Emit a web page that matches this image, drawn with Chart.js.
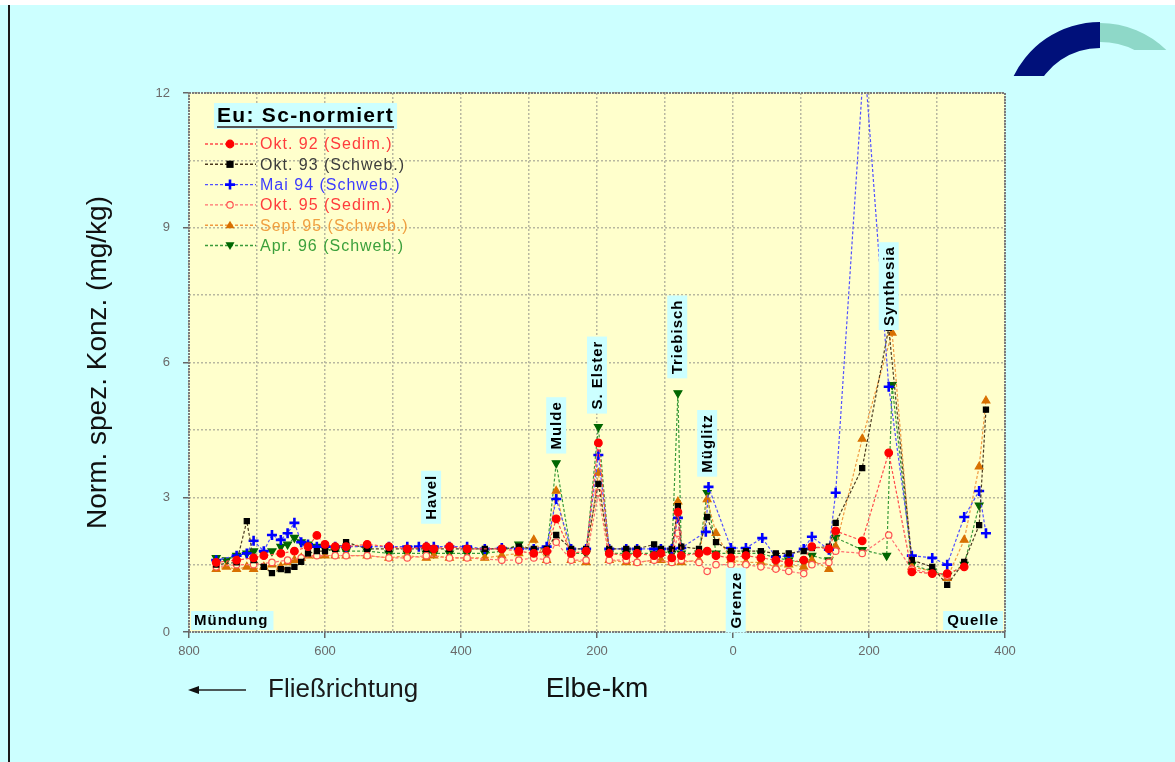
<!DOCTYPE html>
<html lang="de">
<head>
  <meta charset="UTF-8">
  <title>Eu: Sc-normiert – Elbe-Längsprofil</title>
  <script src="https://cdn.jsdelivr.net/npm/chart.js@4.4.0/dist/chart.umd.min.js"></script>
  <style>
    html,
    body {
      margin: 0;
      padding: 0;
      background: #ccffff;
      overflow: hidden;
    }

    #wrap {
      position: relative;
      width: 1175px;
      height: 762px;
    }
  </style>
</head>

<body>
  <div id="wrap"><canvas id="profil" width="1175" height="762"></canvas></div>

  <script>
    // Elbe-km: links deutsche Zählung (negativ), rechts tschechische Zählung
    const okt92Km = [-760, -730, -705, -690, -665, -645, -625, -612, -600, -585, -569, -538, -506, -479, -451, -440, -417, -391, -340, -315, -293, -274, -260, -238, -216, -198, -182, -157, -141, -116, -106, -90, -81, -76, -50, -38, -25, -3, 19, 41, 63, 82, 104, 116, 141, 151, 190, 229, 263, 293, 315, 340];
    const okt92Val = [1.55, 1.6, 1.65, 1.7, 1.75, 1.8, 1.9, 2.15, 1.95, 1.9, 1.9, 1.95, 1.9, 1.85, 1.9, 1.85, 1.9, 1.85, 1.85, 1.8, 1.75, 1.8, 2.52, 1.75, 1.8, 4.21, 1.75, 1.7, 1.75, 1.7, 1.75, 1.65, 2.67, 1.7, 1.75, 1.8, 1.7, 1.65, 1.7, 1.65, 1.6, 1.55, 1.6, 1.9, 1.85, 2.25, 2.03, 3.99, 1.34, 1.3, 1.3, 1.45];

    const okt93Km = [-760, -730, -715, -705, -690, -678, -665, -655, -645, -635, -625, -612, -600, -585, -569, -538, -506, -479, -451, -440, -417, -391, -365, -340, -315, -293, -274, -260, -238, -216, -198, -182, -157, -141, -116, -106, -90, -81, -76, -50, -38, -25, -3, 19, 41, 63, 82, 104, 116, 141, 151, 190, 229, 263, 293, 315, 340, 362, 372];
    const okt93Val = [1.5, 1.55, 2.47, 1.6, 1.45, 1.31, 1.4, 1.38, 1.45, 1.56, 1.75, 1.8, 1.8, 1.85, 2.0, 1.85, 1.85, 1.85, 1.85, 1.85, 1.85, 1.85, 1.85, 1.85, 1.9, 1.85, 1.85, 2.16, 1.85, 1.85, 3.3, 1.85, 1.85, 1.85, 1.95, 1.85, 1.85, 2.8, 1.9, 1.85, 2.56, 2.0, 1.8, 1.8, 1.8, 1.75, 1.75, 1.8, 1.87, 1.9, 2.43, 3.65, 6.77, 1.6, 1.45, 1.05, 1.56, 2.38, 4.95];

    const mai94Km = [-760, -730, -715, -705, -690, -678, -665, -655, -645, -635, -625, -612, -600, -585, -569, -538, -506, -479, -462, -451, -440, -417, -391, -365, -340, -315, -293, -274, -260, -238, -216, -198, -182, -157, -141, -116, -106, -90, -81, -76, -40, -36, -3, 19, 43, 63, 82, 104, 116, 141, 151, 193, 229, 263, 293, 315, 340, 362, 372];
    const mai94Val = [1.6, 1.7, 1.75, 2.03, 1.8, 2.16, 2.05, 2.2, 2.43, 2.0, 1.95, 1.9, 1.9, 1.9, 1.9, 1.9, 1.9, 1.9, 1.9, 1.9, 1.9, 1.9, 1.9, 1.85, 1.87, 1.85, 1.85, 1.9, 2.96, 1.85, 1.85, 3.94, 1.85, 1.85, 1.85, 1.85, 1.85, 1.85, 2.54, 1.87, 2.23, 3.23, 1.87, 1.87, 2.09, 1.67, 1.7, 1.85, 2.12, 1.83, 3.1, 12.8, 5.46, 1.7, 1.65, 1.5, 2.56, 3.14, 2.2];

    const okt95Km = [-760, -730, -705, -678, -655, -635, -612, -585, -569, -538, -506, -479, -451, -417, -391, -340, -315, -293, -274, -260, -238, -216, -198, -182, -157, -141, -116, -90, -81, -76, -50, -38, -25, -3, 19, 41, 63, 82, 104, 116, 141, 151, 190, 229, 263, 293, 315];
    const okt95Val = [1.45, 1.5, 1.5, 1.55, 1.6, 1.65, 1.7, 1.7, 1.7, 1.7, 1.65, 1.65, 1.7, 1.65, 1.65, 1.6, 1.6, 1.65, 1.6, 2.0, 1.6, 1.6, 3.1, 1.6, 1.6, 1.55, 1.6, 1.55, 2.2, 1.6, 1.55, 1.35, 1.5, 1.5, 1.5, 1.45, 1.4, 1.35, 1.3, 1.5, 1.55, 1.8, 1.75, 2.16, 1.4, 1.3, 1.25];

    const sep95Km = [-760, -745, -730, -715, -705, -690, -678, -665, -655, -645, -635, -625, -612, -600, -585, -569, -538, -506, -479, -451, -440, -417, -391, -365, -340, -315, -293, -274, -260, -238, -216, -198, -182, -157, -141, -116, -106, -90, -81, -76, -50, -38, -25, -3, 19, 41, 63, 82, 104, 116, 141, 151, 190, 234, 263, 293, 315, 340, 362, 372];
    const sep95Val = [1.4, 1.45, 1.4, 1.45, 1.4, 1.45, 1.5, 1.45, 1.55, 1.6, 1.65, 1.7, 1.7, 1.7, 1.7, 1.7, 1.7, 1.65, 1.7, 1.65, 1.7, 1.65, 1.65, 1.65, 1.7, 1.75, 2.05, 1.6, 3.14, 1.6, 1.55, 3.54, 1.6, 1.55, 1.55, 1.6, 1.6, 1.55, 2.9, 1.55, 1.6, 2.95, 2.2, 1.6, 1.55, 1.55, 1.45, 1.5, 1.45, 1.6, 1.4, 1.9, 4.3, 6.66, 1.45, 1.35, 1.2, 2.05, 3.68, 5.15];

    const apr96Km = [-760, -745, -730, -715, -705, -690, -678, -665, -655, -645, -635, -625, -612, -600, -585, -569, -538, -506, -479, -451, -440, -417, -391, -365, -340, -315, -293, -274, -260, -238, -216, -198, -182, -157, -141, -116, -106, -90, -81, -76, -50, -38, -25, -3, 19, 41, 63, 82, 104, 116, 141, 151, 190, 226, 234, 263, 293, 315, 340, 362];
    const apr96Val = [1.65, 1.6, 1.7, 1.75, 1.8, 1.75, 1.8, 1.9, 1.95, 2.1, 2.0, 1.95, 1.9, 1.85, 1.8, 1.8, 1.8, 1.75, 1.75, 1.75, 1.75, 1.75, 1.75, 1.75, 1.8, 1.95, 1.8, 1.75, 3.76, 1.75, 1.75, 4.57, 1.75, 1.75, 1.75, 1.75, 1.8, 1.75, 5.32, 1.75, 1.75, 3.1, 1.75, 1.75, 1.75, 1.75, 1.65, 1.6, 1.55, 1.7, 1.6, 2.1, 1.83, 1.7, 5.5, 1.5, 1.35, 1.25, 1.5, 2.82];

    // Beschriftung der Zuflüsse / Orte (km, Mitte der Beschriftung in mg/kg)
    const placeNames = ['Havel', 'Mulde', 'S. Elster', 'Triebisch', 'Müglitz', 'Grenze', 'Synthesia'];
    const placeKm = [-444, -260, -200, -82, -38, 4, 229];
    const placeY = [3.0, 4.6, 5.72, 6.57, 4.2, 0.71, 7.7];

    const seriesNames = ['Okt. 92 (Sedim.)', 'Okt. 93 (Schweb.)', 'Mai 94 (Schweb.)', 'Okt. 95 (Sedim.)', 'Sept 95 (Schweb.)', 'Apr. 96 (Schweb.)'];

    const FONT = 'Liberation Sans, Arial, Helvetica, sans-serif';
    Chart.defaults.font.family = FONT;

    function pts(km, val) {
      return km.map((k, i) => ({ x: k, y: val[i] }));
    }

    const styles = [
      { line: '#ff4a4a', fill: '#ff0000', stroke: '#ff0000', point: 'circle', r: 3.8, text: '#ff3c3c' },
      { line: '#4a3a20', fill: '#000000', stroke: '#000000', point: 'rect', r: 3.6, text: '#3c3c3c' },
      { line: '#5050ff', fill: '#0000ff', stroke: '#0000ff', point: 'cross', r: 5, text: '#3c3cff' },
      { line: '#ff7070', fill: '#ffffcc', stroke: '#ff5050', point: 'circle', r: 3.2, text: '#ff3c3c' },
      { line: '#f09a40', fill: '#d87000', stroke: '#d87000', point: 'triangle', r: 4.5, text: '#f0a040' },
      { line: '#3a9a3a', fill: '#006600', stroke: '#006600', point: 'triangle', r: 4.5, rot: 180, text: '#3ca03c' }
    ];

    const allData = [
      pts(okt92Km, okt92Val),
      pts(okt93Km, okt93Val),
      pts(mai94Km, mai94Val),
      pts(okt95Km, okt95Val),
      pts(sep95Km, sep95Val),
      pts(apr96Km, apr96Val)
    ];

    const datasets = allData.map((d, i) => {
      const s = styles[i];
      return {
        label: seriesNames[i],
        data: d,
        borderColor: s.line,
        borderWidth: 1.2,
        borderDash: [3, 2],
        pointStyle: s.point,
        pointRotation: s.rot || 0,
        pointRadius: s.r,
        pointBackgroundColor: s.fill,
        pointBorderColor: s.stroke,
        pointBorderWidth: s.point === 'cross' ? 2.6 : 1.2,
        tension: 0
      };
    });

    function drawMarker(ctx, s, x, y) {
      const r = s.r;
      ctx.save();
      ctx.fillStyle = s.fill;
      ctx.strokeStyle = s.stroke;
      ctx.lineWidth = s.point === 'cross' ? 2.6 : 1.2;
      ctx.setLineDash([]);
      ctx.beginPath();
      if (s.point === 'circle') {
        ctx.arc(x, y, r, 0, Math.PI * 2);
        ctx.fill();
        ctx.stroke();
      } else if (s.point === 'rect') {
        ctx.fillRect(x - r, y - r, 2 * r, 2 * r);
      } else if (s.point === 'cross') {
        ctx.moveTo(x - r, y); ctx.lineTo(x + r, y);
        ctx.moveTo(x, y - r); ctx.lineTo(x, y + r);
        ctx.stroke();
      } else {
        const d = s.rot ? -1 : 1;
        ctx.moveTo(x, y - d * r);
        ctx.lineTo(x + r, y + d * r * 0.7);
        ctx.lineTo(x - r, y + d * r * 0.7);
        ctx.closePath();
        ctx.fill();
      }
      ctx.restore();
    }

    // Bogen-Logo oben rechts
    function drawLogo(ctx) {
      const cx = 1100, cy = 118;
      ctx.save();
      ctx.beginPath();
      ctx.rect(990, 0, 185, 76);
      ctx.clip();
      ctx.fillStyle = '#00107a';
      ctx.beginPath();
      ctx.arc(cx, cy, 96, Math.PI * 1.12, Math.PI * 1.5);
      ctx.arc(cx, cy, 70, Math.PI * 1.5, Math.PI * 1.12, true);
      ctx.closePath();
      ctx.fill();
      ctx.restore();
      ctx.save();
      ctx.beginPath();
      ctx.rect(1095, 0, 80, 50);
      ctx.clip();
      ctx.fillStyle = '#8ed8c8';
      ctx.beginPath();
      ctx.arc(cx, cy, 95, Math.PI * 1.5, Math.PI * 1.75);
      ctx.arc(cx, cy, 76, Math.PI * 1.75, Math.PI * 1.5, true);
      ctx.closePath();
      ctx.fill();
      ctx.restore();
    }

    function boxText(ctx, text, x, y, rotate) {
      ctx.save();
      ctx.translate(x, y);
      if (rotate) ctx.rotate(-Math.PI / 2);
      ctx.font = 'bold 15px ' + FONT;
      ctx.letterSpacing = '1px';
      const w = ctx.measureText(text).width;
      ctx.fillStyle = '#ccffff';
      ctx.fillRect(-w / 2 - 4, -10, w + 8, 20);
      ctx.fillStyle = '#000000';
      ctx.textAlign = 'center';
      ctx.textBaseline = 'middle';
      ctx.fillText(text, 0, 1);
      ctx.restore();
    }

    const decor = {
      id: 'decor',
      beforeDraw(chart) {
        const { ctx, chartArea: a } = chart;
        ctx.save();
        ctx.fillStyle = '#ccffff';
        ctx.fillRect(0, 0, chart.width, chart.height);
        ctx.fillStyle = '#ffffff';
        ctx.fillRect(0, 0, chart.width, 5);
        ctx.fillStyle = '#1a1a1a';
        ctx.fillRect(8, 5, 2, chart.height - 5);
        ctx.fillStyle = '#ffffcc';
        ctx.fillRect(a.left, a.top, a.right - a.left, a.bottom - a.top);
        ctx.restore();
        drawLogo(ctx);
      },
      afterDatasetsDraw(chart) {
        const { ctx, chartArea: a, scales } = chart;
        const xs = scales.x, ys = scales.y;

        // Rahmen der Plotfläche
        ctx.save();
        ctx.strokeStyle = '#7c7c7c';
        ctx.lineWidth = 2;
        ctx.setLineDash([2, 1]);
        ctx.strokeRect(a.left, a.top, a.right - a.left, a.bottom - a.top);
        ctx.restore();

        // Zuflüsse senkrecht beschriftet
        placeNames.forEach((n, i) => {
          boxText(ctx, n, xs.getPixelForValue(placeKm[i]), ys.getPixelForValue(placeY[i]), true);
        });

        // Mündung / Quelle
        ctx.save();
        ctx.font = 'bold 15px ' + FONT;
        ctx.letterSpacing = '1px';
        ctx.textBaseline = 'middle';
        let w = ctx.measureText('Mündung').width;
        ctx.fillStyle = '#ccffff';
        ctx.fillRect(a.left + 2, a.bottom - 21, w + 8, 19);
        ctx.fillStyle = '#000';
        ctx.fillText('Mündung', a.left + 5, a.bottom - 11);
        w = ctx.measureText('Quelle').width;
        ctx.fillStyle = '#ccffff';
        ctx.fillRect(a.right - w - 10, a.bottom - 21, w + 8, 19);
        ctx.fillStyle = '#000';
        ctx.fillText('Quelle', a.right - w - 6, a.bottom - 11);
        ctx.restore();

        // Legende
        ctx.save();
        const lx = a.left + 16, ty = a.top + 10;
        ctx.font = 'bold 21px ' + FONT;
        ctx.letterSpacing = '1.3px';
        const tw = ctx.measureText('Eu: Sc-normiert').width;
        ctx.fillStyle = '#ccffff';
        ctx.fillRect(lx + 9, ty, tw + 6, 26);
        ctx.fillStyle = '#000';
        ctx.textBaseline = 'middle';
        ctx.fillText('Eu: Sc-normiert', lx + 12, ty + 13);
        ctx.fillStyle = '#555';
        ctx.fillRect(lx + 12, ty + 23, tw, 2);
        ctx.font = '16px ' + FONT;
        ctx.letterSpacing = '1px';
        seriesNames.forEach((n, i) => {
          const s = styles[i];
          const y = a.top + 51 + i * 20.3;
          ctx.strokeStyle = s.line;
          ctx.lineWidth = 1.4;
          ctx.setLineDash([3, 2]);
          ctx.beginPath();
          ctx.moveTo(lx, y);
          ctx.lineTo(lx + 51, y);
          ctx.stroke();
          drawMarker(ctx, s, lx + 25, y);
          ctx.fillStyle = s.text;
          ctx.fillText(n, lx + 55, y + 1);
        });
        ctx.restore();

        // Fließrichtung
        ctx.save();
        ctx.strokeStyle = '#222';
        ctx.lineWidth = 1.3;
        ctx.beginPath();
        ctx.moveTo(196, 690);
        ctx.lineTo(246, 690);
        ctx.stroke();
        ctx.fillStyle = '#111';
        ctx.beginPath();
        ctx.moveTo(188, 690);
        ctx.lineTo(199, 686);
        ctx.lineTo(199, 694);
        ctx.closePath();
        ctx.fill();
        ctx.font = '26px ' + FONT;
        ctx.textBaseline = 'middle';
        ctx.fillStyle = '#1a1a1a';
        ctx.fillText('Fließrichtung', 268, 690);
        ctx.restore();
      }
    };

    new Chart(document.getElementById('profil'), {
      type: 'line',
      data: { datasets: datasets },
      plugins: [decor],
      options: {
        responsive: false,
        animation: false,
        layout: { padding: { left: 0, top: 93, right: 170, bottom: 0 } },
        plugins: { legend: { display: false }, tooltip: { enabled: false } },
        scales: {
          x: {
            type: 'linear',
            min: -800,
            max: 400,
            afterFit(scale) { scale.height = 130; },
            ticks: {
              stepSize: 100,
              autoSkip: false,
              maxRotation: 0,
              padding: 6,
              color: '#6a6a6a',
              font: { size: 13 },
              callback: v => (v % 200 === 0 ? String(Math.abs(v)) : '')
            },
            grid: {
              color: '#b8b8a0',
              lineWidth: 1.5,
              tickLength: 6,
              tickColor: c => (c.tick && c.tick.value % 200 === 0 ? '#666' : 'rgba(0,0,0,0)')
            },
            border: { display: false, dash: [2, 2] },
            title: {
              display: true,
              text: 'Elbe-km',
              color: '#111',
              font: { size: 28 },
              padding: { top: 0, bottom: 56 }
            }
          },
          y: {
            min: 0,
            max: 12,
            afterFit(scale) { scale.width = 189; },
            ticks: {
              stepSize: 1.5,
              autoSkip: false,
              padding: 13,
              color: '#6a6a6a',
              font: { size: 13 },
              callback: v => (v % 3 === 0 ? String(v) : '')
            },
            grid: {
              color: '#b8b8a0',
              lineWidth: 1.5,
              tickLength: 6,
              tickColor: c => (c.tick && c.tick.value % 3 === 0 ? '#666' : 'rgba(0,0,0,0)')
            },
            border: { display: false, dash: [2, 2] },
            title: {
              display: true,
              text: 'Norm. spez. Konz. (mg/kg)',
              color: '#111',
              font: { size: 28 },
              padding: { top: 81, bottom: 0 }
            }
          }
        }
      }
    });
  </script>
</body>

</html>
